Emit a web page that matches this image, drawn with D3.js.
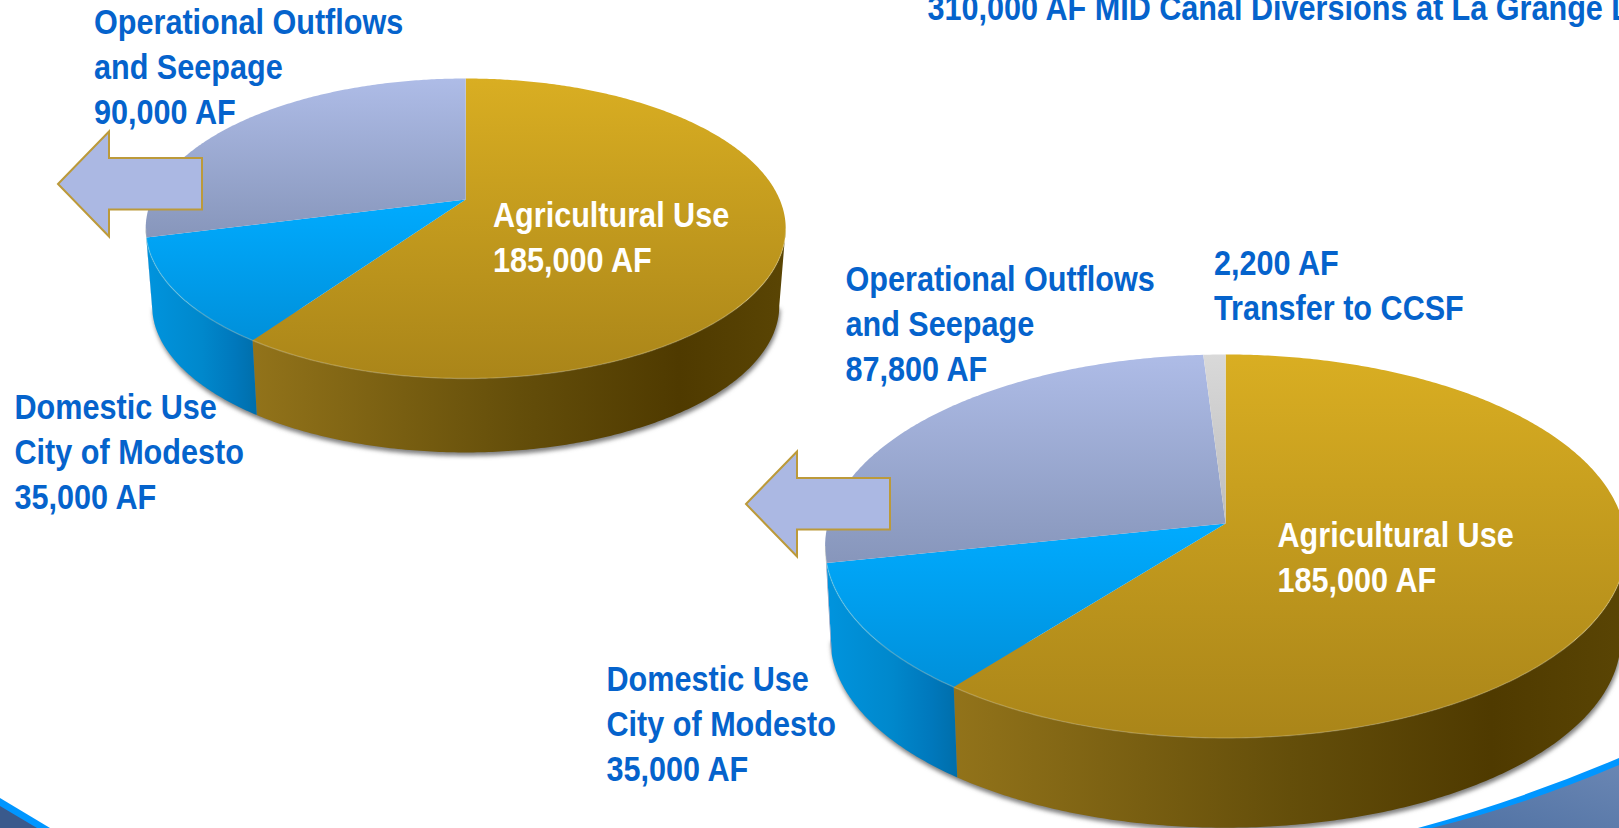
<!DOCTYPE html>
<html>
<head>
<meta charset="utf-8">
<script src="https://cdn.jsdelivr.net/npm/d3@7"></script>
<style>
  html, body { margin: 0; padding: 0; background: #fff; overflow: hidden; }
  svg { display: block; }
  text { font-family: "Liberation Sans", Arial, sans-serif; font-weight: bold; font-size: 36px; }
</style>
</head>
<body>
<div id="chart"></div>
<script>
// slices run clockwise from 12 o'clock
var categories1 = ['Agricultural Use', 'Domestic Use', 'Operational Outflows'];
var values1 = [185000, 35000, 90000];

// wedges as they measure in the picture, the right pie is not drawn quite
// proportional to its labels (185,000 / 35,000 / 87,800 / 2,200)
var categories2 = ['Agricultural Use', 'Domestic Use', 'Operational Outflows', 'Transfer to CCSF'];
var values2 = [188000, 34400, 84500, 3100];

var title = '310,000 AF MID Canal Diversions at La Grange Dam';

var labels1 = [
  { lines: ['Operational Outflows', 'and Seepage', '90,000 AF'], x: 94, y: 34, color: '#0563CC' },
  { lines: ['Agricultural Use', '185,000 AF'], x: 493, y: 226.5, color: '#FFFFFF' },
  { lines: ['Domestic Use', 'City of Modesto', '35,000 AF'], x: 14.5, y: 418.5, color: '#0563CC' }
];
var labels2 = [
  { lines: ['Operational Outflows', 'and Seepage', '87,800 AF'], x: 845.5, y: 291, color: '#0563CC' },
  { lines: ['2,200 AF', 'Transfer to CCSF'], x: 1214, y: 275, color: '#0563CC' },
  { lines: ['Agricultural Use', '185,000 AF'], x: 1277.5, y: 546.5, color: '#FFFFFF' },
  { lines: ['Domestic Use', 'City of Modesto', '35,000 AF'], x: 606.5, y: 690.5, color: '#0563CC' }
];

var topColors = {
  'Agricultural Use': ['#D9AE22', '#AA8519'],
  'Domestic Use': ['#00ABFF', '#0090DA'],
  'Operational Outflows': ['#AEBCE7', '#8796BB'],
  'Transfer to CCSF': ['#D9D9D9', '#BDBDBD']
};
var sideColors = {
  'Agricultural Use': ['#92731A', '#644E0A', '#4F3A00', '#5A4504'],
  'Domestic Use': ['#0094DE', '#0088CC', '#0078BC', '#006EAA'],
  'Operational Outflows': ['#7F8DB5', '#7F8DB5', '#7F8DB5', '#7F8DB5'],
  'Transfer to CCSF': ['#AAAAAA', '#AAAAAA', '#AAAAAA', '#AAAAAA']
};

var width = 1619, height = 828;
var LINE_STEP = 45;
var TEXT_SCALE = 0.85;

var svg = d3.select('#chart').append('svg').attr('width', width).attr('height', height);
var defs = svg.append('defs');

defs.append('filter').attr('id', 'soft')
  .attr('x', '-5%').attr('y', '-5%').attr('width', '110%').attr('height', '110%')
  .append('feGaussianBlur').attr('stdDeviation', 2.2);

var lineGen = d3.line();

// GRAPHICS

drawSwooshes();

// perspective of the disc: cx/cy is where the apex lands, up/down the reach
// of the rim above and below it, rx the widest half width
drawPie('a', categories1, values1, { cx: 465.7, cy: 199.5, up: 121, down: 179, rx: 320, lowerScale: 0.98, lowerCy: 277 });
drawArrow(58, 184);
drawPie('b', categories2, values2, { cx: 1225.6, cy: 523.5, up: 169, down: 214.5, rx: 400.5, lowerScale: 0.987, lowerCy: 616 });
drawArrow(746, 504);

labels1.forEach(drawLabel);
labels2.forEach(drawLabel);
drawText(title, 927.5, 19.5, '#0563CC');

function drawPie(id, cats, values, p) {
  var k = (p.down - p.up) / (p.down + p.up);
  var ay = p.up * (1 + k);
  var bx = p.rx * Math.sqrt(1 - k * k);

  // angle (clockwise from top) -> rim point relative to the apex
  function rim(a) {
    var u = Math.sin(a), v = -Math.cos(a), w = 1 - k * v;
    return [bx * u / w, ay * v / w];
  }
  function upper(a) {
    var q = rim(a);
    return [p.cx + q[0], p.cy + q[1]];
  }
  function lower(a) {
    var q = rim(a);
    return [p.cx + q[0] * p.lowerScale, p.lowerCy + q[1] * p.lowerScale];
  }
  function steps(a0, a1) {
    var n = Math.max(2, Math.ceil((a1 - a0) / 0.01));
    return d3.range(n + 1).map(function(i) { return a0 + (a1 - a0) * i / n; });
  }

  var arcs = d3.pie().sort(null).value(function(d) { return d; })(values);

  // only the front of the wall shows
  var sideFrom = Math.acos(-k), sideTo = 2 * Math.PI - sideFrom;

  // soft shadow under the wall
  svg.append('path')
    .attr('d', lineGen(steps(sideFrom, sideTo).map(lower)))
    .attr('transform', 'translate(1,3.5)')
    .attr('fill', '#808080')
    .attr('filter', 'url(#soft)');

  arcs.forEach(function(d, i) {
    var cat = cats[i];
    var a0 = Math.max(d.startAngle, sideFrom), a1 = Math.min(d.endAngle, sideTo);
    if (a1 <= a0) return;

    var gid = 'side-' + id + i;
    var stops = sideColors[cat];
    var grad = defs.append('linearGradient').attr('id', gid);
    [0, 0.5, 0.8, 1].forEach(function(o, j) {
      grad.append('stop').attr('offset', o).attr('stop-color', stops[j]);
    });

    var along = steps(a0, a1);
    var pts = along.map(upper).concat(along.slice().reverse().map(lower));
    svg.append('path').attr('d', lineGen(pts) + 'Z').attr('fill', 'url(#' + gid + ')');
  });

  arcs.forEach(function(d, i) {
    var cat = cats[i];
    var gid = 'top-' + id + i;
    var grad = defs.append('linearGradient').attr('id', gid)
      .attr('x1', 0).attr('y1', 0).attr('x2', 0).attr('y2', 1);
    grad.append('stop').attr('offset', 0).attr('stop-color', topColors[cat][0]);
    grad.append('stop').attr('offset', 1).attr('stop-color', topColors[cat][1]);

    var pts = [[p.cx, p.cy]].concat(steps(d.startAngle, d.endAngle).map(upper));
    svg.append('path').attr('d', lineGen(pts) + 'Z').attr('fill', 'url(#' + gid + ')');
  });

  // pale rim along the front edge
  svg.append('path')
    .attr('d', lineGen(steps(sideFrom, sideTo).map(upper)))
    .attr('fill', 'none')
    .attr('stroke', '#FFF4C8')
    .attr('stroke-opacity', 0.22)
    .attr('stroke-width', 1.4);
}

function drawArrow(tipX, tipY) {
  var pts = [[tipX, tipY], [tipX + 51, tipY - 52.5], [tipX + 51, tipY - 26], [tipX + 144, tipY - 26],
             [tipX + 144, tipY + 25.5], [tipX + 51, tipY + 25.5], [tipX + 51, tipY + 52.5]];
  svg.append('path')
    .attr('d', lineGen(pts) + 'Z')
    .attr('fill', '#ABB8E3')
    .attr('stroke', '#BC9A3A')
    .attr('stroke-width', 2);
}

function drawSwooshes() {
  var grad = defs.append('linearGradient').attr('id', 'swoosh')
    .attr('x1', 0).attr('y1', 1).attr('x2', 1).attr('y2', 0);
  grad.append('stop').attr('offset', 0).attr('stop-color', '#4F71A3');
  grad.append('stop').attr('offset', 1).attr('stop-color', '#6A86B3');

  // bottom left corner
  svg.append('path').attr('d', 'M0,798L50,828L0,828Z').attr('fill', '#0096FF');
  svg.append('path').attr('d', 'M0,806L37,828L0,828Z').attr('fill', '#3A5A8C');

  // bottom right corner
  svg.append('path').attr('d', 'M1418,828Q1520,800 1619,758L1619,828Z').attr('fill', '#0096FF');
  svg.append('path').attr('d', 'M1432,828Q1525,805 1619,765L1619,828Z').attr('fill', 'url(#swoosh)');
}

function drawLabel(d) {
  d.lines.forEach(function(line, i) {
    drawText(line, d.x, d.y + i * LINE_STEP, d.color);
  });
}

function drawText(txt, x, y, color) {
  svg.append('text')
    .attr('transform', 'translate(' + x + ',' + y + ') scale(' + TEXT_SCALE + ',1)')
    .attr('fill', color)
    .text(txt);
}
</script>
</body>
</html>
